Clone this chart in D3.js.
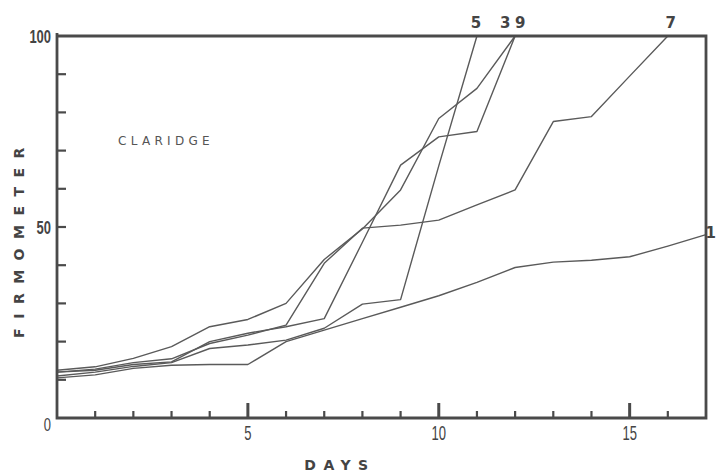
<!DOCTYPE html>
<html>
<head>
<meta charset="utf-8">
<script src="https://cdn.jsdelivr.net/npm/d3@7"></script>
<style>
  html, body { margin: 0; padding: 0; background: #fff; }
  svg { display: block; }
  .tick-lbl { font-family: "Liberation Sans", "DejaVu Sans", sans-serif; fill: #444; }
  .ax-title { font-family: "DejaVu Sans", sans-serif; font-weight: bold; font-size: 14px; fill: #444; }
  .end-lbl { font-family: "DejaVu Sans", sans-serif; font-weight: bold; font-size: 15px; fill: #444; }
</style>
</head>
<body>
<div id="chart"></div>
<script>
/* ============================
   DATA
============================ */
const days = d3.range(0, 18);

const s1 = [10.5, 11.3, 13, 13.8, 14, 14, 20, 23, 26, 29, 32, 35.5, 39.4, 40.8, 41.3, 42.2, 45, 48];
const s3 = [12.5, 13.4, 15.6, 18.7, 23.9, 25.8, 30, 41.5, 49.5, 59.7, 78.4, 86.3, 100];
const s9 = [12, 12.5, 14, 14.7, 20, 22.2, 23.9, 26, 46, 66.2, 73.6, 75, 100];
const s7 = [12, 12.8, 14.5, 15.5, 19.5, 21.7, 24.3, 40.5, 49.7, 50.5, 51.8, 55.8, 59.7, 77.6, 78.9, 89.5, 100];
const s5 = [11, 12, 13.5, 14.5, 18.2, 19.1, 20.4, 23.5, 29.8, 31, 66, 100];

const seriesNames = ["1", "3", "9", "7", "5"];
const seriesVals = [s1, s3, s9, s7, s5];

const yTickVals = d3.range(0, 101, 10);
const yLabels = [0, 50, 100];
const xLabels = [5, 10, 15];

const chartTitle = "CLARIDGE";
const xTitle = "DAYS";
const yTitle = "FIRMOMETER";

/* ============================
   SETUP
============================ */
const W = 716, H = 474;
const x = d3.scaleLinear().domain([0, 17]).range([57, 706]);
const y = d3.scaleLinear().domain([0, 100]).range([418, 36]);

const svg = d3.select("#chart").append("svg")
  .attr("width", W).attr("height", H);

const ink = "#4a4a4a";

// series
const line = d3.line()
  .x((d, i) => x(days[i]))
  .y(d => y(d));

svg.append("g").selectAll("path")
  .data(seriesVals)
  .enter().append("path")
  .attr("d", d => line(d))
  .attr("fill", "none")
  .attr("stroke", "#5a5a5a")
  .attr("stroke-width", 1.4)
  .attr("stroke-linejoin", "round");

// frame: left, bottom, right, top
const frame = svg.append("g").attr("stroke", ink).attr("stroke-width", 2.8).attr("fill", "none");
frame.append("path").attr("d", `M${x(0)},${y(100) - 3}V${y(0)}H${x(17)}V${y(100)}H${x(0)}`);

// y ticks (pointing inwards)
svg.append("g").selectAll("line")
  .data(yTickVals.filter(v => v > 0 && v < 100))
  .enter().append("line")
  .attr("x1", x(0)).attr("x2", x(0) + 9)
  .attr("y1", d => y(d)).attr("y2", d => y(d))
  .attr("stroke", ink).attr("stroke-width", 2.2);

// x ticks (pointing up, longer at 5s)
svg.append("g").selectAll("line")
  .data(days.filter(v => v > 0 && v < 17))
  .enter().append("line")
  .attr("x1", d => x(d)).attr("x2", d => x(d))
  .attr("y1", y(0))
  .attr("y2", d => y(0) - (d % 5 === 0 ? 15 : 7))
  .attr("stroke", ink).attr("stroke-width", d => d % 5 === 0 ? 3 : 2.2);

// tick labels (condensed by horizontal scaling)
svg.append("g").selectAll("text")
  .data(yLabels)
  .enter().append("text")
  .attr("class", "tick-lbl")
  .attr("font-size", 18)
  .attr("font-weight", d => d === 0 ? "normal" : "bold")
  .attr("text-anchor", "end")
  .attr("transform", d => `translate(${x(0) - 6},${d === 0 ? y(d) + 13 : y(d) + 7}) scale(0.72,1)`)
  .text(d => d);

svg.append("g").selectAll("text")
  .data(xLabels)
  .enter().append("text")
  .attr("class", "tick-lbl")
  .attr("font-size", 21)
  .attr("text-anchor", "middle")
  .attr("transform", d => `translate(${x(d)},${y(0) + 22}) scale(0.62,1)`)
  .text(d => d);

// series end labels
const ends = seriesVals.map((s, i) => ({ name: seriesNames[i], d: s.length - 1, v: s[s.length - 1] }));
const endOffset = { "1": [10, 3], "3": [-10, -8], "9": [5, -8], "7": [3, -8], "5": [-1, -8] };
svg.append("g").selectAll("text")
  .data(ends)
  .enter().append("text")
  .attr("class", "end-lbl")
  .attr("font-size", d => d.name === "1" ? 13 : null)
  .attr("x", d => x(d.d) + endOffset[d.name][0])
  .attr("y", d => y(d.v) + endOffset[d.name][1])
  .attr("text-anchor", d => d.name === "1" ? "end" : "middle")
  .text(d => d.name);

// titles
svg.append("text")
  .attr("x", 118).attr("y", 145)
  .attr("font-family", "DejaVu Sans, sans-serif")
  .attr("font-size", 12)
  .attr("letter-spacing", "4.3px")
  .attr("fill", "#555")
  .text(chartTitle);

svg.append("text")
  .attr("class", "ax-title")
  .attr("x", 340).attr("y", 470)
  .attr("text-anchor", "middle")
  .attr("letter-spacing", "7.5px")
  .text(xTitle);

svg.append("text")
  .attr("class", "ax-title")
  .attr("transform", "translate(24,238) rotate(-90)")
  .attr("text-anchor", "middle")
  .attr("letter-spacing", "9.5px")
  .text(yTitle);
</script>
</body>
</html>
